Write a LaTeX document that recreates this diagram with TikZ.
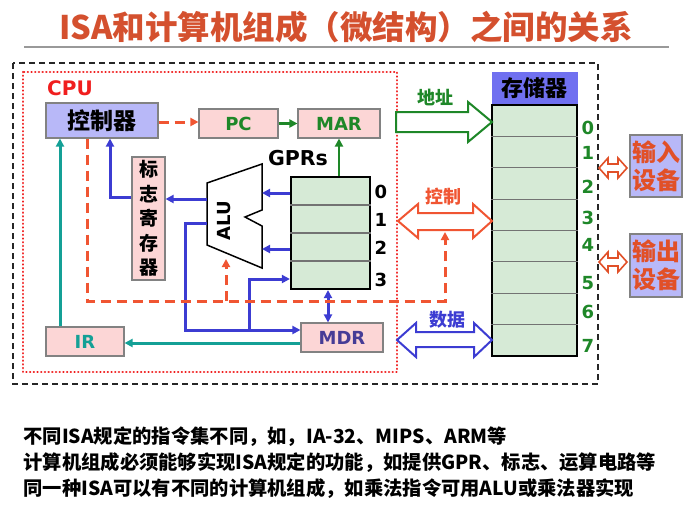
\documentclass[tikz,border=0pt]{standalone}
\usepackage{fontspec}
\setmainfont{Noto Sans CJK SC}
\newfontfamily\lat{DejaVu Sans}
\usetikzlibrary{arrows.meta}
\definecolor{titlec}{RGB}{212,80,46}
\definecolor{cpured}{RGB}{240,30,30}
\definecolor{lav}{RGB}{184,184,248}
\definecolor{pinkf}{RGB}{252,214,214}
\definecolor{boxgray}{RGB}{130,130,130}
\definecolor{grn}{RGB}{30,135,40}
\definecolor{tealc}{RGB}{20,160,150}
\definecolor{blu}{RGB}{60,60,210}
\definecolor{dashred}{RGB}{240,85,50}
\definecolor{gprf}{RGB}{214,234,214}
\definecolor{memhead}{RGB}{112,112,240}
\definecolor{iored}{RGB}{225,80,40}
\definecolor{mdrtext}{RGB}{70,60,150}
\begin{document}
\begin{tikzpicture}[x=1pt,y=-1pt,
  >={Triangle[length=8pt,width=8pt]},
  pinkbox/.style={draw=boxgray, line width=1.1pt, fill=pinkf, inner sep=0pt},
  latlbl/.style={font=\lat\bfseries\fontsize{18}{20}\selectfont},
  bl/.style={draw=blu, line width=3pt},
  tl/.style={draw=tealc, line width=3pt},
  rd/.style={draw=dashred, line width=3pt, dash pattern=on 10pt off 6pt},
  gl/.style={draw=grn, line width=2.2pt},
  num/.style={font=\lat\bfseries\fontsize{18}{20}\selectfont},
  btext/.style={anchor=west, font=\bfseries\fontsize{19.3}{22}\selectfont}
]
\useasboundingbox (0,0) rectangle (694,504);
% title
\node[font=\bfseries\fontsize{32.5}{35}\selectfont, text=titlec] (title) at (346,27) {ISA和计算机组成（微结构）之间的关系};
\draw[black!40, line width=1.8pt] (24,47) coordinate (ula) -- (669,47) coordinate (ulb);
% frames
\draw[black!85, line width=1.4pt, dash pattern=on 6pt off 4pt] (13,63) rectangle (598,384);
\draw[cpured, line width=2.5pt, line cap=round, dash pattern=on 0.1pt off 3.6pt] (23,72) rectangle (397,372);
\node[font=\lat\bfseries\fontsize{20}{22}\selectfont, text=cpured] (cpu) at (70,88) {CPU};
% boxes
\node[draw=boxgray, line width=1.1pt, fill=lav, minimum width=112pt, minimum height=35pt, inner sep=0pt,
      font=\bfseries\fontsize{23}{25}\selectfont] (ctrl) at (102,120.5) {控制器};
\node[pinkbox, minimum width=79pt, minimum height=29pt, latlbl, text=grn] (pc) at (238.5,123.5) {PC};
\node[pinkbox, minimum width=82pt, minimum height=29pt, latlbl, text=grn] (mar) at (339,123.5) {MAR};
\node[pinkbox, minimum width=33pt, minimum height=123pt, align=center,
      font=\bfseries\fontsize{19}{24.5}\selectfont] (flag) at (148.5,218.5) {标\\志\\寄\\存\\器};
\node[pinkbox, minimum width=78pt, minimum height=29pt, latlbl, text=tealc] (ir) at (85,341.5) {IR};
\node[pinkbox, minimum width=82pt, minimum height=29pt, latlbl, text=mdrtext] (mdr) at (342,337.5) {MDR};
% GPRs
\node[draw=black, line width=2.2pt, fill=gprf, minimum width=79pt, minimum height=112pt, inner sep=0pt] (gpr) at (330.5,233) {};
\foreach \yy in {205,233,261} \draw[black!55, line width=1.1pt] (gpr.west |- 0,\yy) -- (gpr.east |- 0,\yy);
\node[font=\lat\bfseries\fontsize{20.5}{22}\selectfont] (gprlbl) at (298,158) {GPRs};
\node[num] (g0) at (381,192) {0};
\node[num] (g1) at (381,220) {1};
\node[num] (g2) at (381,248) {2};
\node[num] (g3) at (381,280) {3};
% ALU
\coordinate (a1) at (207,183);
\coordinate (a2) at (262,164);
\coordinate (a3) at (262,210);
\coordinate (a4) at (245,217);
\coordinate (a5) at (262,226);
\coordinate (a6) at (262,268);
\coordinate (a7) at (207,245);
\draw[black, line width=1.5pt, fill=white, line join=miter] (a1) -- (a2) -- (a3) -- (a4) -- (a5) -- (a6) -- (a7) -- cycle;
\node[rotate=90, latlbl] (alu) at (224,221) {ALU};
% memory
\node[draw=memhead, fill=memhead, minimum width=85pt, minimum height=33pt, inner sep=0pt,
      font=\bfseries\fontsize{22}{24}\selectfont] (memh) at (534.5,88.5) {存储器};
\node[draw=black, line width=2.2pt, fill=gprf, minimum width=85pt, minimum height=251pt, inner sep=0pt] (mem) at (534.5,230.5) {};
\foreach \k in {1,...,7} \draw[black!55, line width=1.1pt] (mem.west |- 0,{105+31.375*\k}) -- (mem.east |- 0,{105+31.375*\k});
\foreach \n/\yy in {0/128,1/153,2/187,3/218,4/245,5/283,6/312,7/346}
  \node[num, text=grn] (m\n) at (588,\yy) {\n};
% IO devices
\node[draw=boxgray, line width=1.1pt, fill=lav, minimum width=52pt, minimum height=62pt, inner sep=0pt, align=center,
      text=iored, font=\bfseries\fontsize{24}{28}\selectfont] (indev) at (656,166) {输入\\设备};
\node[draw=boxgray, line width=1.1pt, fill=lav, minimum width=52pt, minimum height=63pt, inner sep=0pt, align=center,
      text=iored, font=\bfseries\fontsize{24}{28}\selectfont] (outdev) at (656,265.5) {输出\\设备};
% connectors
\draw[rd,->] (ctrl.east |- 0,122) -- (pc.west |- 0,122);
\draw[gl,->] (pc.east) -- (mar.west);
\draw[gl,->] (mar.south |- gpr.north) -- (mar.south);
\draw[bl,->] (gpr.west |- 0,193) -- (a2 |- 0,193);
\draw[bl,->] (gpr.west |- 0,249) -- (a6 |- 0,249);
\draw[bl,->] (a1 |- 0,199) -- (flag.east |- 0,199);
\draw[bl,->] (flag.west |- 0,197) -| ([xshift=8pt]ctrl.south);
\draw[tl,->] ([xshift=-25pt]ir.north) -- ([xshift=-25pt]ir.north |- ctrl.south);
\draw[tl,->] (mdr.west |- 0,343) -- (ir.east |- 0,343);
\coordinate (bj) at (249,330);
\draw[bl,->] (a1 |- 0,223) -- (185,223) |- (mdr.west |- bj);
\draw[bl,->] (bj) |- (gpr.west |- 0,279);
\draw[bl,<->] ([xshift=-2.5pt]gpr.south) -- ([xshift=-2.5pt]gpr.south |- mdr.north);
\coordinate (rb) at (445,301);
\coordinate (ctlin) at (445,232);
\draw[rd,->] ([xshift=-15pt]ctrl.south) |- (rb) -- (ctlin);
\draw[rd,->] (226,301) -- (226,259);
% buses
\draw[grn, line width=2pt, fill=white] (396,112) -- (468,112) -- (468,102) -- (492,122) -- (468,142) -- (468,132) -- (396,132) -- cycle;
\node[text=grn, font=\bfseries\fontsize{18}{20}\selectfont] (addr) at (435,97) {地址};
\draw[dashred, line width=2pt, fill=white] (398,221) -- (418,204) -- (418,213) -- (473,213) -- (473,204) -- (492,221) -- (473,238) -- (473,230) -- (418,230) -- (418,238) -- cycle;
\node[text=dashred, font=\bfseries\fontsize{18}{20}\selectfont] (ctl) at (443,197) {控制};
\draw[blu, line width=2pt, fill=white] (397,340) -- (416,323) -- (416,332) -- (474,332) -- (474,323) -- (492,340) -- (474,357) -- (474,347) -- (416,347) -- (416,357) -- cycle;
\node[text=blu, font=\bfseries\fontsize{18}{20}\selectfont] (dat) at (447,320) {数据};
\draw[iored, line width=1.6pt, fill=white] (599,168) -- (608,158) -- (608,164) -- (618,164) -- (618,158) -- (627,168) -- (618,178) -- (618,172) -- (608,172) -- (608,178) -- cycle;
\draw[iored, line width=1.6pt, fill=white] (599,262) -- (608,252) -- (608,258) -- (618,258) -- (618,252) -- (627,262) -- (618,272) -- (618,266) -- (608,266) -- (608,272) -- cycle;
% bottom text
\node[btext] (t1) at (20,437) {不同ISA规定的指令集不同，如，IA-32、MIPS、ARM等};
\node[btext] (t2) at (20,463) {计算机组成必须能够实现ISA规定的功能，如提供GPR、标志、运算电路等};
\node[btext] (t3) at (20,489) {同一种ISA可以有不同的计算机组成，如乘法指令可用ALU或乘法器实现};
\end{tikzpicture}
\end{document}
